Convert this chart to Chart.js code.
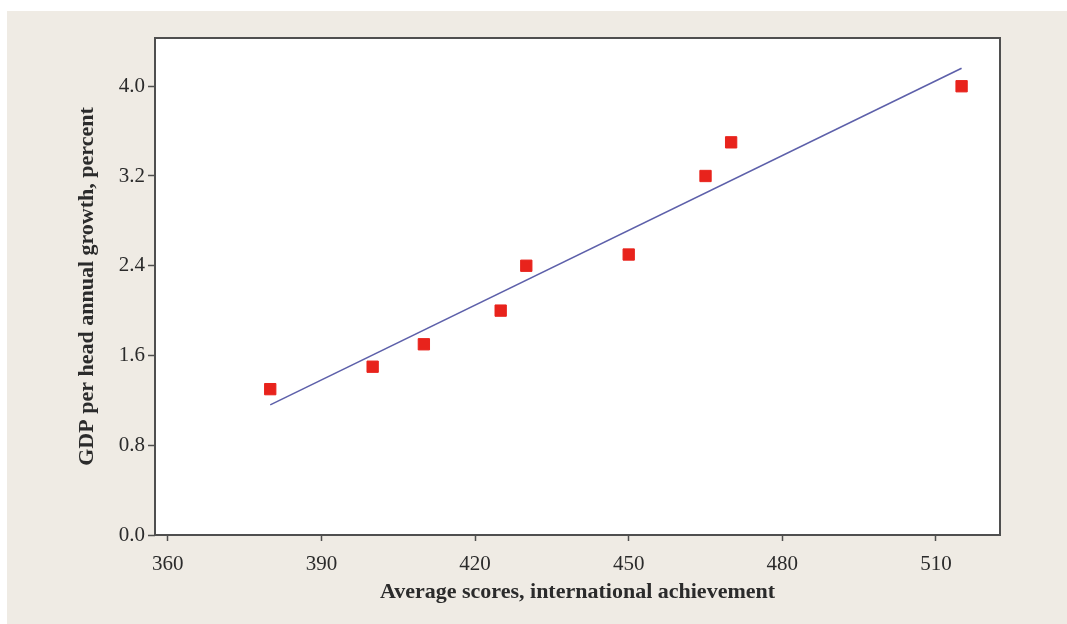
<!DOCTYPE html>
<html>
<head>
<meta charset="utf-8">
<script src="https://cdn.jsdelivr.net/npm/chart.js@4/dist/chart.umd.min.js"></script>
<style>
    html, body { margin: 0; padding: 0; background: #ffffff; }
    #panel {
        position: absolute;
        left: 7px;
        top: 11px;
        width: 1060px;
        height: 613px;
        background: #efebe4;
    }
</style>
</head>
<body>
<div id="panel"><canvas id="chart" width="1060" height="613"></canvas></div>
<script>
// scores vs growth
const scores = [380, 400, 410, 425, 430, 450, 465, 470, 515];
const growth = [1.3, 1.5, 1.7, 2.0, 2.4, 2.5, 3.2, 3.5, 4.0];

// fitted line end points
const fitX = [380, 515];
const fitY = [1.16, 4.16];

const xTicks = [360, 390, 420, 450, 480, 510];
const yTicks = [0.0, 0.8, 1.6, 2.4, 3.2, 4.0];

const xTitle = "Average scores, international achievement";
const yTitle = "GDP per head annual growth, percent";

const frameColor = "#4f4f4f";
const textColor = "#2b2b2b";
const serif = "'Liberation Serif', 'DejaVu Serif', serif";

const framePlugin = {
    id: "frame",
    beforeDraw(chart) {
        const a = chart.chartArea;
        const ctx = chart.ctx;
        ctx.save();
        ctx.fillStyle = "#ffffff";
        ctx.fillRect(a.left, a.top, a.right - a.left, a.bottom - a.top);
        ctx.restore();
    },
    afterDraw(chart) {
        const a = chart.chartArea;
        const ctx = chart.ctx;
        ctx.save();
        ctx.strokeStyle = frameColor;
        ctx.lineWidth = 2;
        ctx.strokeRect(a.left, a.top, a.right - a.left, a.bottom - a.top);
        ctx.restore();
    }
};

new Chart("chart", {
    type: "scatter",
    data: {
        datasets: [{
            data: scores.map((x, i) => ({x: x, y: growth[i]})),
            pointStyle: "rect",
            pointRadius: 8,
            pointBackgroundColor: "#e8231c",
            pointBorderColor: "#e8231c",
            pointBorderWidth: 1,
            order: 1
        }, {
            data: fitX.map((x, i) => ({x: x, y: fitY[i]})),
            showLine: true,
            borderColor: "#5d60aa",
            borderWidth: 1.6,
            pointRadius: 0,
            order: 2
        }]
    },
    options: {
        responsive: false,
        animation: false,
        layout: {
            padding: {top: 27, right: 67, left: 0, bottom: 0}
        },
        plugins: {
            legend: {display: false},
            tooltip: {enabled: false}
        },
        scales: {
            x: {
                type: "linear",
                min: 357.5,
                max: 522.5,
                afterBuildTicks: (scale) => { scale.ticks = xTicks.map(v => ({value: v})) },
                afterFit: (scale) => { scale.height = 89 },
                border: {display: false},
                grid: {
                    drawOnChartArea: false,
                    tickLength: 6,
                    tickColor: frameColor,
                    tickWidth: 1.5
                },
                ticks: {
                    color: textColor,
                    font: {family: serif, size: 21},
                    padding: 11,
                    maxRotation: 0
                },
                title: {
                    display: true,
                    text: xTitle,
                    color: textColor,
                    font: {family: serif, size: 22, weight: "bold"},
                    padding: {top: 0, bottom: 18}
                }
            },
            y: {
                type: "linear",
                min: 0,
                max: 4.43,
                afterBuildTicks: (scale) => { scale.ticks = yTicks.map(v => ({value: v})) },
                afterFit: (scale) => { scale.width = 148 },
                border: {display: false},
                grid: {
                    drawOnChartArea: false,
                    tickLength: 7,
                    tickColor: frameColor,
                    tickWidth: 1.5
                },
                ticks: {
                    color: textColor,
                    font: {family: serif, size: 21},
                    padding: 3,
                    callback: (v) => Number(v).toFixed(1)
                },
                title: {
                    display: true,
                    text: yTitle,
                    color: textColor,
                    font: {family: serif, size: 22, weight: "bold"},
                    padding: {top: 67, bottom: 0}
                }
            }
        }
    },
    plugins: [framePlugin]
});
</script>
</body>
</html>
